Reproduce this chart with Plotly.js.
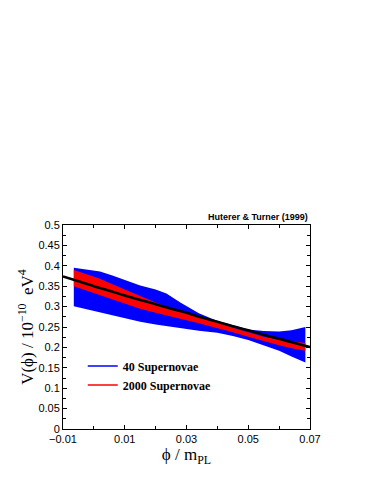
<!DOCTYPE html>
<html>
<head>
<meta charset="utf-8">
<script src="https://cdn.plot.ly/plotly-3.0.1.min.js"></script>
<style>
  html, body { margin: 0; padding: 0; background: #fff; }
  #chart { width: 374px; height: 484px; }
</style>
</head>
<body>
<div id="chart"></div>
<script>
// phi / m_PL sample points for the bands
var phi = [-0.0065, -0.0025, 0.002, 0.006, 0.010, 0.015, 0.020, 0.0235, 0.028,
  0.034, 0.040, 0.045, 0.050, 0.055, 0.060, 0.064, 0.0685];

// 40 supernovae band (blue)
var blueUpper = [0.395, 0.391, 0.386, 0.376, 0.365, 0.352, 0.342, 0.332, 0.310,
  0.284, 0.265, 0.254, 0.244, 0.240, 0.239, 0.242, 0.250];
var blueLower = [0.301, 0.294, 0.285, 0.278, 0.271, 0.263, 0.256, 0.252, 0.247,
  0.241, 0.236, 0.228, 0.218, 0.205, 0.192, 0.178, 0.163];

// 2000 supernovae band (red)
var redUpper = [0.390, 0.380, 0.368, 0.355, 0.342, 0.325, 0.310, 0.300, 0.288,
  0.275, 0.262, 0.248, 0.237, 0.226, 0.219, 0.215, 0.211];
var redLower = [0.350, 0.340, 0.328, 0.318, 0.307, 0.295, 0.285, 0.279, 0.270,
  0.259, 0.248, 0.237, 0.226, 0.215, 0.205, 0.198, 0.192];

// true potential (black)
var phiTrue = [-0.010, -0.005, 0.000, 0.005, 0.010, 0.015, 0.020, 0.025, 0.030,
  0.035, 0.040, 0.045, 0.050, 0.055, 0.060, 0.065, 0.070];
var vTrue = [0.374, 0.362, 0.350, 0.339, 0.327, 0.316, 0.306, 0.295, 0.285,
  0.273, 0.263, 0.252, 0.242, 0.231, 0.221, 0.211, 0.201];

var BLUE = "#0000ff", RED = "#ff0000";

var data = [
  {x: phi, y: blueLower, mode: "lines", line: {width: 0, color: BLUE}, showlegend: false, hoverinfo: "skip"},
  {x: phi, y: blueUpper, mode: "lines", line: {width: 0, color: BLUE}, fill: "tonexty", fillcolor: BLUE, showlegend: false},
  {x: phi, y: redLower, mode: "lines", line: {width: 0, color: RED}, showlegend: false, hoverinfo: "skip"},
  {x: phi, y: redUpper, mode: "lines", line: {width: 0, color: RED}, fill: "tonexty", fillcolor: RED, showlegend: false},
  {x: phiTrue, y: vTrue, mode: "lines", line: {width: 2.6, color: "#000", shape: "spline"}, showlegend: false},
  // legend entries
  {x: [null], y: [null], mode: "lines", line: {width: 1.5, color: BLUE}, name: "40 Supernovae"},
  {x: [null], y: [null], mode: "lines", line: {width: 1.5, color: RED}, name: "2000 Supernovae"}
];

var tickFont = {family: "Liberation Sans, Arial, sans-serif", size: 11, color: "#000"};
var serif = "Liberation Serif, Times New Roman, serif";

var layout = {
  width: 374, height: 484,
  margin: {l: 63, r: 64, t: 225, b: 55},
  paper_bgcolor: "#fff", plot_bgcolor: "#fff",
  showlegend: true,
  legend: {x: 0.08, y: 0.38, xanchor: "left", yanchor: "top", bgcolor: "rgba(0,0,0,0)",
    traceorder: "normal", itemwidth: 30,
    font: {family: serif, size: 12, color: "#000", weight: "bold"}, tracegroupgap: 0},
  xaxis: {
    range: [-0.01, 0.07], tick0: -0.01, dtick: 0.02, ticks: "inside", ticklen: 4,
    tickcolor: "#000", showline: true, linecolor: "#000", linewidth: 1, mirror: "allticks",
    showgrid: false, zeroline: false, tickfont: tickFont,
    minor: {dtick: 0.01, tick0: -0.01, ticks: "inside", ticklen: 3, tickcolor: "#000", showgrid: false},
    title: {text: "\u03d5 / m<sub>PL</sub>", font: {family: serif, size: 17, color: "#000"}, standoff: 0}
  },
  yaxis: {
    range: [0, 0.5], dtick: 0.05, ticks: "inside", ticklen: 4,
    tickcolor: "#000", showline: true, linecolor: "#000", linewidth: 1, mirror: "allticks",
    showgrid: false, zeroline: false, tickfont: tickFont,
    minor: {dtick: 0.025, ticks: "inside", ticklen: 3, tickcolor: "#000", showgrid: false},
    title: {text: "V(\u03d5) / 10<sup>\u221210</sup>  eV<sup>4</sup>", font: {family: serif, size: 17, color: "#000"}, standoff: 0}
  },
  annotations: [{
    text: "Huterer & Turner (1999)", xref: "paper", yref: "paper", x: 1, y: 1,
    xanchor: "right", yanchor: "bottom", yshift: 1, showarrow: false,
    font: {family: "Liberation Sans, Arial, sans-serif", size: 9, color: "#000", weight: "bold"}
  }]
};

Plotly.newPlot("chart", data, layout, {displayModeBar: false, staticPlot: true});
</script>
</body>
</html>
